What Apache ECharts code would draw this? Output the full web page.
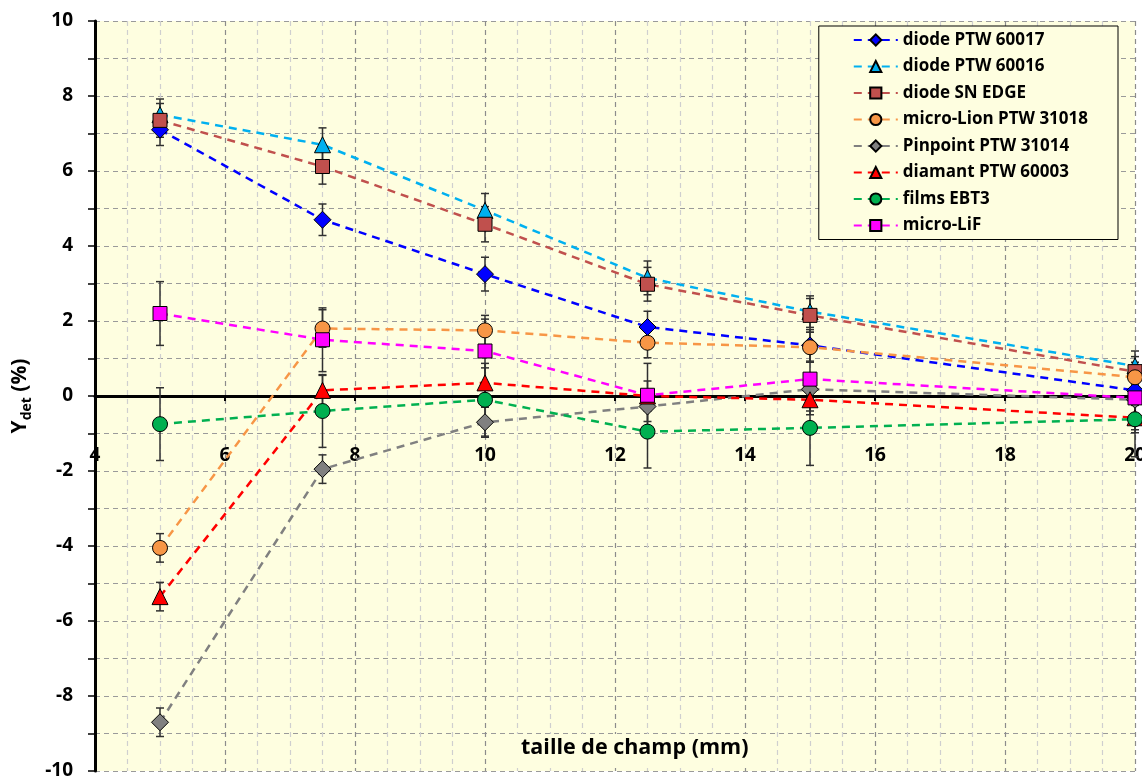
<!DOCTYPE html>
<html>
<head>
<meta charset="utf-8">
<script src="https://cdn.jsdelivr.net/npm/echarts@6/dist/echarts.min.js"></script>
<style>
  html, body { margin: 0; padding: 0; background: #ffffff; }
  #chart { width: 1142px; height: 780px; }
</style>
</head>
<body>
<div id="chart"></div>
<script>
// Field sizes (mm)
const fieldSizes = [5, 7.5, 10, 12.5, 15, 20];

// Y_det (%) per detector
const diode60017 = [7.10, 4.70, 3.25, 1.84, 1.35, 0.15];
const diode60016 = [7.50, 6.70, 4.95, 3.15, 2.25, 0.80];
const diodeSNEdge = [7.35, 6.12, 4.58, 2.98, 2.15, 0.65];
const microLion = [-4.05, 1.80, 1.75, 1.42, 1.30, 0.50];
const pinpoint = [-8.70, -1.95, -0.70, -0.28, 0.18, -0.10];
const diamant = [-5.35, 0.15, 0.35, 0.00, -0.10, -0.58];
const filmsEBT3 = [-0.75, -0.40, -0.10, -0.95, -0.85, -0.62];
const microLiF = [2.20, 1.50, 1.20, 0.02, 0.45, -0.05];

// Uncertainties (±, %)
const err60017 = [0.42, 0.42, 0.45, 0.42, 0.42, 0.40];
const err60016 = [0.42, 0.45, 0.45, 0.45, 0.42, 0.40];
const errSNEdge = [0.45, 0.47, 0.47, 0.45, 0.45, 0.40];
const errMicroLion = [0.38, 0.50, 0.40, 0.40, 0.40, 0.40];
const errPinpoint = [0.38, 0.38, 0.40, 0.40, 0.40, 0.40];
const errDiamant = [0.38, 0.40, 0.40, 0.40, 0.40, 0.40];
const errEBT3 = [0.97, 0.97, 0.97, 0.97, 1.00, 1.00];
const errMicroLiF = [0.85, 0.85, 0.85, 0.85, 0.85, 0.85];

const detectors = [
  { name: 'diode PTW 60017', values: diode60017, errors: err60017, color: '#0000FF', symbol: 'diamond', size: 17 },
  { name: 'diode PTW 60016', values: diode60016, errors: err60016, color: '#00B0F0', symbol: 'triangle', size: 16 },
  { name: 'diode SN EDGE', values: diodeSNEdge, errors: errSNEdge, color: '#C0504D', symbol: 'rect', size: 14 },
  { name: 'micro-Lion PTW 31018', values: microLion, errors: errMicroLion, color: '#F79646', symbol: 'circle', size: 15 },
  { name: 'Pinpoint PTW 31014', values: pinpoint, errors: errPinpoint, color: '#808080', symbol: 'diamond', size: 17 },
  { name: 'diamant PTW 60003', values: diamant, errors: errDiamant, color: '#FF0000', symbol: 'triangle', size: 16 },
  { name: 'films EBT3', values: filmsEBT3, errors: errEBT3, color: '#00B050', symbol: 'circle', size: 15 },
  { name: 'micro-LiF', values: microLiF, errors: errMicroLiF, color: '#FF00FF', symbol: 'rect', size: 14 }
];

const plotBg = '#FEFEE0';
const font = 'Open Sans';
const gridTop = 21, gridBottom = 9, chartHeight = 780;
// the x axis sits on y = 0, which is the middle of the -10..10 range
const xAxisOffset = -(chartHeight - gridTop - gridBottom) / 2;

function errorBarRender(params, api) {
  const x = api.value(0);
  const lo = api.coord([x, api.value(1)]);
  const hi = api.coord([x, api.value(2)]);
  const cap = 4;
  const style = { stroke: '#303030', lineWidth: 1.5 };
  return {
    type: 'group',
    children: [
      { type: 'line', shape: { x1: lo[0], y1: lo[1], x2: hi[0], y2: hi[1] }, style },
      { type: 'line', shape: { x1: lo[0] - cap, y1: lo[1], x2: lo[0] + cap, y2: lo[1] }, style },
      { type: 'line', shape: { x1: hi[0] - cap, y1: hi[1], x2: hi[0] + cap, y2: hi[1] }, style }
    ]
  };
}

const series = [];
detectors.forEach(d => {
  series.push({
    name: d.name + ' (incertitude)',
    type: 'custom',
    renderItem: errorBarRender,
    data: fieldSizes.map((x, i) => [x, d.values[i] - d.errors[i], d.values[i] + d.errors[i]]),
    encode: { x: 0, y: [1, 2] },
    z: 3,
    silent: true
  });
});
detectors.forEach(d => {
  series.push({
    name: d.name,
    type: 'line',
    data: fieldSizes.map((x, i) => [x, d.values[i]]),
    symbol: d.symbol,
    symbolSize: d.size,
    lineStyle: { color: d.color, width: 2.5, type: [8, 6] },
    itemStyle: { color: d.color, borderColor: '#000000', borderWidth: 1 },
    z: 4
  });
});

const chart = echarts.init(document.getElementById('chart'), null, { renderer: 'canvas' });
chart.setOption({
  animation: false,
  backgroundColor: '#ffffff',
  grid: {
    left: 95, right: 7, top: gridTop, bottom: gridBottom,
    containLabel: false,
    outerBoundsMode: 'none',
    show: true, backgroundColor: plotBg, borderWidth: 0
  },
  legend: {
    data: detectors.map(d => d.name),
    orient: 'vertical',
    right: 24, top: 26,
    backgroundColor: plotBg,
    borderColor: '#000000', borderWidth: 1, borderRadius: 0,
    padding: [5, 30, 5, 34],
    itemGap: 8.5,
    itemWidth: 44, itemHeight: 14,
    textStyle: { fontFamily: font, fontWeight: 'bold', fontSize: 17, lineHeight: 18, color: '#000000' }
  },
  xAxis: {
    type: 'value',
    min: 4, max: 20, interval: 2,
    position: 'bottom',
    offset: xAxisOffset,
    axisLine: { onZero: false, lineStyle: { color: '#000000', width: 3 } },
    axisTick: { show: true, length: 5, lineStyle: { color: '#000000', width: 2 } },
    axisLabel: { margin: 50, fontFamily: font, fontWeight: 'bold', fontSize: 19, color: '#000000' },
    splitLine: { show: true, lineStyle: { color: '#8c8c8c', width: 1.2, type: [5, 4] } },
    minorTick: { show: false, splitNumber: 4 },
    minorSplitLine: { show: true, lineStyle: { color: '#cfcfcf', width: 1.2, type: [5, 4] } }
  },
  yAxis: {
    type: 'value',
    min: -10, max: 10, interval: 2,
    name: '{a|Y}{b|det}{a| (%)}',
    nameLocation: 'middle',
    nameGap: 57,
    nameRotate: 90,
    nameTextStyle: {
      rich: {
        a: { fontFamily: font, fontWeight: 'bold', fontSize: 21, color: '#000000', verticalAlign: 'bottom', lineHeight: 26 },
        b: { fontFamily: font, fontWeight: 'bold', fontSize: 14, color: '#000000', verticalAlign: 'bottom', padding: [0, 0, -4, 0] }
      }
    },
    axisLine: { show: true, lineStyle: { color: '#000000', width: 3 } },
    axisTick: { show: true, length: 7, lineStyle: { color: '#000000', width: 1.5 } },
    minorTick: { show: true, splitNumber: 2, length: 7, lineStyle: { color: '#000000', width: 1.5 } },
    axisLabel: { margin: 22, fontFamily: font, fontWeight: 'bold', fontSize: 19, color: '#000000' },
    splitLine: { show: true, lineStyle: { color: '#9a9a9a', width: 1.2, type: [5, 4] } },
    minorSplitLine: { show: true, lineStyle: { color: '#9a9a9a', width: 1.2, type: [5, 4] } }
  },
  graphic: [{
    type: 'text',
    left: 515, top: 734,
    z: 10,
    style: {
      text: 'taille de champ (mm)',
      fontFamily: font, fontWeight: 'bold', fontSize: 21.5, fill: '#000000',
      backgroundColor: plotBg,
      padding: [3, 6, 6, 6]
    }
  }],
  series: series
});
</script>
</body>
</html>
